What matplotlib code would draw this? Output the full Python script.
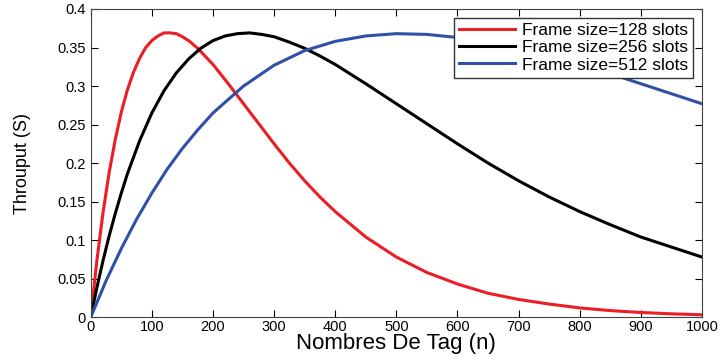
import matplotlib
matplotlib.use("Agg")
from matplotlib import pyplot as plt

plt.rcParams["font.family"] = ["Liberation Sans", "DejaVu Sans"]

# values
n_128 = [0, 10, 20, 30, 40, 50, 60, 70, 80, 90, 100, 110, 120, 130, 140, 150,
         160, 175, 200, 225, 250, 275, 300, 325, 350, 375, 400, 450, 500, 550,
         600, 650, 700, 750, 800, 850, 900, 950, 1000]
s_128 = [0, 0.073, 0.135, 0.187, 0.230, 0.266, 0.295, 0.318, 0.336, 0.350,
         0.359, 0.365, 0.369, 0.369, 0.368, 0.364, 0.359, 0.349, 0.328, 0.303,
         0.277, 0.251, 0.225, 0.200, 0.177, 0.156, 0.137, 0.104, 0.078, 0.058,
         0.043, 0.031, 0.023, 0.017, 0.012, 0.0085, 0.0061, 0.0043, 0.0031]

n_256 = [0, 10, 20, 30, 40, 50, 60, 80, 100, 120, 140, 160, 180, 200, 220, 240,
         260, 280, 300, 325, 350, 375, 400, 450, 500, 550, 600, 650, 700, 750,
         800, 850, 900, 950, 1000]
s_256 = [0, 0.038, 0.073, 0.105, 0.134, 0.161, 0.186, 0.229, 0.265, 0.294,
         0.317, 0.335, 0.349, 0.359, 0.365, 0.368, 0.369, 0.367, 0.364, 0.357,
         0.349, 0.339, 0.328, 0.303, 0.277, 0.251, 0.225, 0.200, 0.177, 0.156,
         0.137, 0.120, 0.104, 0.091, 0.078]

n_512 = [0, 25, 50, 75, 100, 125, 150, 175, 200, 250, 300, 350, 400, 450, 500,
         550, 600, 650, 700, 750, 800, 850, 900, 950, 1000]
s_512 = [0, 0.047, 0.089, 0.127, 0.161, 0.192, 0.219, 0.243, 0.265, 0.300,
         0.327, 0.346, 0.358, 0.365, 0.368, 0.367, 0.363, 0.357, 0.349, 0.339,
         0.328, 0.316, 0.303, 0.290, 0.277]

labels = ["Frame size=128 slots", "Frame size=256 slots", "Frame size=512 slots"]
colors = ["#ee1c25", "#000000", "#3050a8"]

fig = plt.figure(figsize=(7.2, 3.6), dpi=100)
ax = fig.add_axes([0.126, 0.119, 0.849, 0.856])

ax.plot(n_128, s_128, color=colors[0], lw=2.2, label=labels[0])
ax.plot(n_256, s_256, color=colors[1], lw=2.2, label=labels[1])
ax.plot(n_512, s_512, color=colors[2], lw=2.2, label=labels[2])

ax.set_xlim(0, 1000)
ax.set_ylim(0, 0.4)
ax.set_xticks(range(0, 1001, 100))
ax.set_yticks([0, 0.05, 0.1, 0.15, 0.2, 0.25, 0.3, 0.35, 0.4])
ax.set_yticklabels(["0", "0.05", "0.1", "0.15", "0.2", "0.25", "0.3", "0.35", "0.4"])
ax.tick_params(direction="in", top=True, right=True, length=5, labelsize=10.5)
ax.tick_params(axis="x", pad=2)
for s in ax.spines.values():
    s.set_color("#444444")

ax.set_xlabel("Nombres De Tag (n)", fontsize=16)
ax.xaxis.set_label_coords(0.5, -0.05)
ax.set_ylabel("Throuput (S)", fontsize=13)
ax.yaxis.set_label_coords(-0.098, 0.5)

leg = ax.legend(loc="upper right", fontsize=12.5, fancybox=False, framealpha=1,
                edgecolor="#333333", handlelength=3.2, handletextpad=0.4,
                borderpad=0.3, labelspacing=0.12, borderaxespad=0.5)
leg.get_frame().set_linewidth(1.0)

fig.savefig("out.png", dpi=100)
